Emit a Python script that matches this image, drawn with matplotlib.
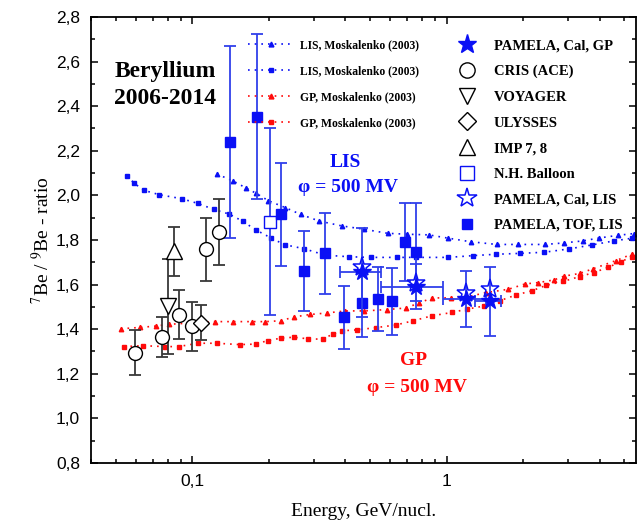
import matplotlib
matplotlib.use("Agg")
import matplotlib.pyplot as plt
from matplotlib.lines import Line2D
from matplotlib.ticker import FixedLocator, FuncFormatter, MultipleLocator, NullFormatter

plt.rcParams['font.family'] = ['Liberation Serif', 'DejaVu Serif']
plt.rcParams['mathtext.fontset'] = 'stix'

# MODEL CURVES, Moskalenko (2003)
lis_tri_e = [0.125, 0.1445, 0.163, 0.1786, 0.1995, 0.2326, 0.2666, 0.316, 0.388, 0.475, 0.5866,
             0.697, 0.850, 1.018, 1.247, 1.577, 1.918, 2.44, 2.90, 3.44, 3.98, 4.73, 5.46]
lis_tri_r = [2.096, 2.065, 2.033, 2.009, 1.976, 1.945, 1.915, 1.885, 1.863, 1.848, 1.830,
             1.826, 1.823, 1.808, 1.792, 1.780, 1.780, 1.780, 1.787, 1.796, 1.809, 1.821, 1.829]

lis_sq_e = [0.0556, 0.0589, 0.0645, 0.0743, 0.0911, 0.1053, 0.1217, 0.140, 0.158, 0.1774, 0.205,
            0.2308, 0.275, 0.334, 0.412, 0.505, 0.637, 0.762, 1.016, 1.276, 1.563, 1.942, 2.419,
            3.03, 3.74, 4.55, 5.37]
lis_sq_r = [2.088, 2.056, 2.023, 2.003, 1.985, 1.964, 1.937, 1.916, 1.884, 1.846, 1.808,
            1.779, 1.761, 1.732, 1.725, 1.722, 1.722, 1.722, 1.722, 1.730, 1.736, 1.740, 1.745,
            1.760, 1.778, 1.796, 1.808]

gp_tri_e = [0.0524, 0.0625, 0.0718, 0.081, 0.1225, 0.1445, 0.1718, 0.194, 0.2238, 0.251, 0.2917,
            0.340, 0.400, 0.475, 0.581, 0.693, 0.781, 0.877, 1.040, 1.209, 1.428, 1.751, 2.037,
            2.296, 2.647, 2.90, 3.34, 3.77, 4.62, 5.37]
gp_tri_r = [1.402, 1.408, 1.414, 1.422, 1.434, 1.434, 1.434, 1.434, 1.438, 1.455, 1.466,
            1.473, 1.482, 1.482, 1.488, 1.495, 1.518, 1.540, 1.541, 1.545, 1.564, 1.579, 1.603,
            1.609, 1.621, 1.638, 1.650, 1.671, 1.707, 1.737]

gp_sq_e = [0.0538, 0.064, 0.0784, 0.0884, 0.1053, 0.125, 0.1535, 0.1774, 0.1983, 0.2238, 0.2508,
           0.2846, 0.326, 0.3567, 0.3886, 0.4447, 0.528, 0.633, 0.735, 0.876, 1.050, 1.204, 1.406,
           1.621, 1.883, 2.176, 2.456, 2.871, 3.34, 3.80, 4.33, 4.84, 5.37]
gp_sq_r = [1.322, 1.326, 1.322, 1.322, 1.337, 1.337, 1.331, 1.333, 1.349, 1.360, 1.364,
           1.357, 1.355, 1.378, 1.393, 1.397, 1.407, 1.419, 1.437, 1.460, 1.475, 1.490, 1.504,
           1.528, 1.554, 1.573, 1.596, 1.614, 1.636, 1.654, 1.678, 1.702, 1.726]

# MEASUREMENTS
cris_e = [0.0594, 0.076, 0.0885, 0.100, 0.113, 0.127]
cris_r = [1.295, 1.364, 1.464, 1.414, 1.758, 1.837]
cris_err = [0.10, 0.09, 0.11, 0.11, 0.14, 0.147]

voyager_e = [0.0803]
voyager_r = [1.503]
voyager_err = [0.214]

ulysses_e = [0.1086]
ulysses_r = [1.43]
ulysses_err = [0.08]

imp_e = [0.0845]
imp_r = [1.75]
imp_err = [0.11]

balloon_e = [0.2023]
balloon_r = [1.882]
balloon_err = [0.42]

tof_e = [0.141, 0.1795, 0.2244, 0.2754, 0.334, 0.397, 0.464, 0.536, 0.610, 0.687, 0.762]
tof_r = [2.238, 2.353, 1.915, 1.662, 1.740, 1.453, 1.516, 1.535, 1.526, 1.790, 1.748]
tof_err = [0.43, 0.37, 0.23, 0.18, 0.18, 0.14, 0.15, 0.145, 0.15, 0.175, 0.22]

cal_e = [0.466, 0.758, 1.19, 1.48]
cal_e_lo = [0.381, 0.555, 0.965, 1.30]
cal_e_hi = [0.552, 0.965, 1.43, 1.635]
cal_gp_r = [1.655, 1.591, 1.535, 1.526]
cal_lis_r = [1.68, 1.609, 1.561, 1.579]
cal_err = [0.2, 0.1, 0.127, 0.155]

BLUE = '#0a10f5'
BLUE_BAR = '#3040ea'
RED = '#ff0a0a'
GREY = '#383838'


def draw_models(ax):
    dots = (0, (1, 3))
    ax.plot(lis_tri_e, lis_tri_r, linestyle=dots, color=BLUE, lw=1.2, marker='^', ms=3.2)
    ax.plot(lis_sq_e, lis_sq_r, linestyle=dots, color=BLUE, lw=1.2, marker='s', ms=2.8)
    ax.plot(gp_tri_e, gp_tri_r, linestyle=dots, color=RED, lw=1.2, marker='^', ms=3.2)
    ax.plot(gp_sq_e, gp_sq_r, linestyle=dots, color=RED, lw=1.2, marker='s', ms=2.8)


def draw_data(ax):
    kw = dict(capsize=4, elinewidth=1.3, capthick=1.3, linestyle='none')
    ax.errorbar(voyager_e, voyager_r, yerr=voyager_err, fmt='v', ms=11, mfc='white',
                mec='black', ecolor=GREY, **kw)
    ax.errorbar(imp_e, imp_r, yerr=imp_err, fmt='^', ms=11, mfc='white',
                mec='black', ecolor=GREY, **kw)
    ax.errorbar(cris_e, cris_r, yerr=cris_err, fmt='o', ms=10, mfc='white',
                mec='black', ecolor=GREY, **kw)
    ax.errorbar(ulysses_e, ulysses_r, yerr=ulysses_err, fmt='D', ms=8.5, mfc='white',
                mec='black', ecolor=GREY, **kw)
    ax.errorbar(balloon_e, balloon_r, yerr=balloon_err, fmt='s', ms=8.5, mfc='white',
                mec=BLUE, ecolor=BLUE_BAR, **kw)
    ax.errorbar(tof_e, tof_r, yerr=tof_err, fmt='s', ms=6.5, color=BLUE,
                ecolor=BLUE_BAR, **kw)
    xerr = [[c - lo for c, lo in zip(cal_e, cal_e_lo)], [hi - c for c, hi in zip(cal_e, cal_e_hi)]]
    ax.errorbar(cal_e, cal_gp_r, yerr=cal_err, xerr=xerr, fmt='*', ms=13, color=BLUE,
                ecolor=BLUE_BAR, zorder=5, **kw)
    ax.plot(cal_e, cal_lis_r, linestyle='none', marker='*', ms=14, mfc='none', mec=BLUE,
            mew=1.1, zorder=6)


def draw_legends(ax):
    dots = (0, (1, 3))
    model_handles = [
        Line2D([], [], linestyle=dots, color=BLUE, lw=1.2, marker='^', ms=3.5),
        Line2D([], [], linestyle=dots, color=BLUE, lw=1.2, marker='s', ms=3),
        Line2D([], [], linestyle=dots, color=RED, lw=1.2, marker='^', ms=3.5),
        Line2D([], [], linestyle=dots, color=RED, lw=1.2, marker='s', ms=3),
    ]
    model_labels = ['LIS, Moskalenko (2003)', 'LIS, Moskalenko (2003)',
                    'GP, Moskalenko (2003)', 'GP, Moskalenko (2003)']
    leg1 = ax.legend(model_handles, model_labels, loc='upper left',
                     bbox_to_anchor=(0.2875, 0.951), frameon=False, borderpad=0,
                     borderaxespad=0, handlelength=4.0, handletextpad=0.45,
                     labelspacing=1.2, prop={'weight': 'bold', 'size': 8.4})
    ax.add_artist(leg1)

    data_handles = [
        Line2D([], [], linestyle='none', marker='*', ms=14, color=BLUE),
        Line2D([], [], linestyle='none', marker='o', ms=11, mfc='white', mec='black'),
        Line2D([], [], linestyle='none', marker='v', ms=12, mfc='white', mec='black'),
        Line2D([], [], linestyle='none', marker='D', ms=9.5, mfc='white', mec='black'),
        Line2D([], [], linestyle='none', marker='^', ms=12, mfc='white', mec='black'),
        Line2D([], [], linestyle='none', marker='s', ms=9.5, mfc='white', mec=BLUE),
        Line2D([], [], linestyle='none', marker='*', ms=15, mfc='white', mec=BLUE, mew=1.1),
        Line2D([], [], linestyle='none', marker='s', ms=7, color=BLUE),
    ]
    data_labels = ['PAMELA, Cal, GP', 'CRIS (ACE)', 'VOYAGER', 'ULYSSES', 'IMP 7, 8',
                   'N.H. Balloon', 'PAMELA, Cal, LIS', 'PAMELA, TOF, LIS']
    ax.legend(data_handles, data_labels, loc='upper left', bbox_to_anchor=(0.670, 0.950),
              frameon=False, borderpad=0, borderaxespad=0, handlelength=1.5,
              handletextpad=1.1, labelspacing=0.85, prop={'weight': 'bold', 'size': 10.5})


fig = plt.figure(figsize=(6.37, 5.21), dpi=100)
ax = fig.add_axes([91 / 637, 58 / 521, 545 / 637, 446 / 521])

draw_models(ax)
draw_data(ax)
draw_legends(ax)

ax.set_xscale('log')
ax.set_xlim(0.04, 5.56)
ax.set_ylim(0.8, 2.8)

ax.xaxis.set_major_locator(FixedLocator([0.1, 1]))
ax.xaxis.set_major_formatter(FuncFormatter(lambda v, p: '0,1' if v < 0.5 else '1'))
ax.xaxis.set_minor_locator(FixedLocator([0.04, 0.05, 0.06, 0.07, 0.08, 0.09,
                                         0.2, 0.3, 0.4, 0.5, 0.6, 0.7, 0.8, 0.9,
                                         2, 3, 4, 5]))
ax.xaxis.set_minor_formatter(NullFormatter())
ax.yaxis.set_major_locator(MultipleLocator(0.2))
ax.yaxis.set_minor_locator(MultipleLocator(0.1))
ax.yaxis.set_major_formatter(FuncFormatter(lambda v, p: f'{v:.1f}'.replace('.', ',')))

ax.tick_params(which='both', direction='in', top=True, right=True, width=1.1)
ax.tick_params(which='major', length=5)
ax.tick_params(which='minor', length=3)
ax.tick_params(axis='y', which='major', pad=8)
ax.tick_params(axis='x', which='major', pad=8)
for lab in ax.get_xticklabels() + ax.get_yticklabels():
    lab.set_family('Liberation Sans')
    lab.set_fontsize(12.5)
for s in ax.spines.values():
    s.set_linewidth(1.3)

ax.set_xlabel('Energy, GeV/nucl.', fontsize=14, labelpad=10)
ax.set_ylabel(r'$^7$Be / $^9$Be - ratio', fontsize=14, labelpad=2)

ax.text(0.1355, 0.877, 'Beryllium', transform=ax.transAxes, ha='center', va='center',
        fontsize=17, fontweight='bold')
ax.text(0.1355, 0.818, '2006-2014', transform=ax.transAxes, ha='center', va='center',
        fontsize=17, fontweight='bold')
ax.text(0.467, 0.673, 'LIS', transform=ax.transAxes, ha='center', va='center',
        fontsize=14, fontweight='bold', color=BLUE)
ax.text(0.471, 0.617, '\u03c6 = 500 MV', transform=ax.transAxes, ha='center', va='center',
        fontsize=14, fontweight='bold', color=BLUE)
ax.text(0.591, 0.230, 'GP', transform=ax.transAxes, ha='center', va='center',
        fontsize=14, fontweight='bold', color=RED)
ax.text(0.598, 0.170, '\u03c6 = 500 MV', transform=ax.transAxes, ha='center', va='center',
        fontsize=14, fontweight='bold', color=RED)

fig.savefig('out.png', dpi=100)
